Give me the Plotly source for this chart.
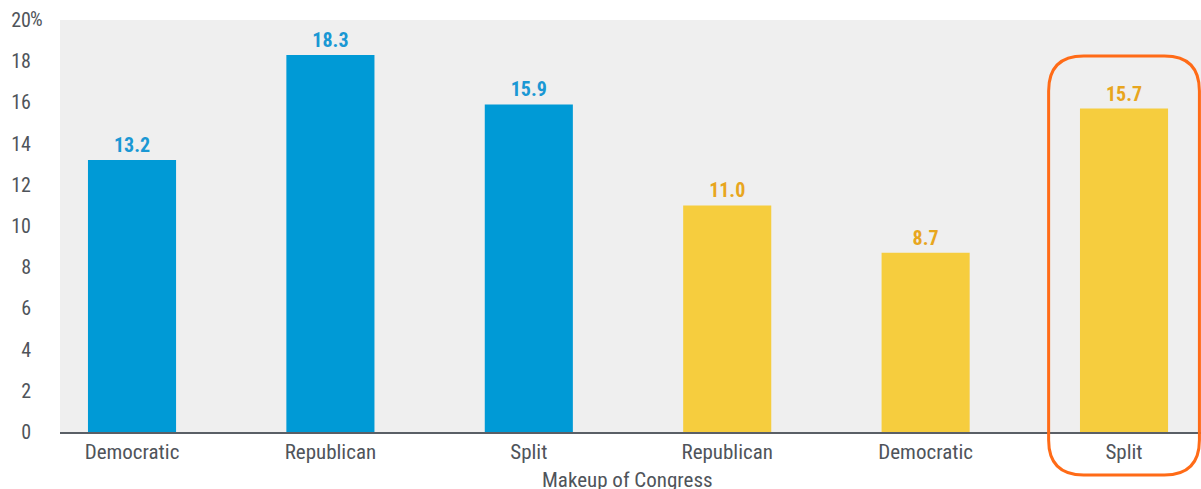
import plotly.graph_objects as go

categories = ["Democratic", "Republican", "Split", "Republican", "Democratic", "Split"]
values = [13.2, 18.3, 15.9, 11.0, 8.7, 15.7]
groups = ["blue", "blue", "blue", "yellow", "yellow", "yellow"]
y_ticks = [0, 2, 4, 6, 8, 10, 12, 14, 16, 18, 20]
y_ticktext = ["0", "2", "4", "6", "8", "10", "12", "14", "16", "18", "20"]
x_title = "Makeup of Congress"
highlight_index = 5

BLUE = "#009AD6"
YELLOW = "#F6CD3E"
BLUE_TXT = "#1A98D4"
YELLOW_TXT = "#E8A61E"
ORANGE = "#FF6B17"
FONT = "Roboto Condensed, Liberation Sans Narrow, Roboto, sans-serif"
GRAY = "#4F545A"

x = list(range(len(categories)))
bar_colors = [BLUE if g == "blue" else YELLOW for g in groups]
txt_colors = [BLUE_TXT if g == "blue" else YELLOW_TXT for g in groups]

fig = go.Figure()
fig.add_trace(go.Bar(
    x=x, y=values, width=0.444,
    marker=dict(color=bar_colors, line=dict(width=0)),
    text=[f"{v:.1f}" for v in values],
    textposition="outside",
    textfont=dict(family=FONT, size=20, color=txt_colors, weight="bold"),
    cliponaxis=False,
    hoverinfo="skip",
))

xmin, xmax = -0.363, 5.388
W, H = 1201, 489
ml, mr, mt, mb = 60, 0, 20, 57
pw = W - ml - mr
ph = H - mt - mb

# highlight rounded rectangle around the last bar (paper coordinates)
half = 0.38
x0 = (highlight_index - half - xmin) / (xmax - xmin)
x1 = (highlight_index + half - xmin) / (xmax - xmin)
y1 = 1 - 36 / ph
y0 = -43 / ph
rx = 35 / pw
ry = 35 / ph
path = (f"M {x0+rx},{y1} L {x1-rx},{y1} Q {x1},{y1} {x1},{y1-ry} "
        f"L {x1},{y0+ry} Q {x1},{y0} {x1-rx},{y0} "
        f"L {x0+rx},{y0} Q {x0},{y0} {x0},{y0+ry} "
        f"L {x0},{y1-ry} Q {x0},{y1} {x0+rx},{y1} Z")
fig.add_shape(type="path", path=path, xref="paper", yref="paper",
              line=dict(color=ORANGE, width=3), layer="above")

fig.add_annotation(text="%", xref="paper", yref="y", x=0, y=20,
                   xanchor="left", yanchor="middle", xshift=-32, yshift=1,
                   showarrow=False, font=dict(family=FONT, size=20, color=GRAY))

fig.add_annotation(text=x_title, xref="paper", yref="paper", x=0.5, y=0,
                   xanchor="center", yanchor="middle", xshift=-3, yshift=-48,
                   showarrow=False, font=dict(family=FONT, size=21, color=GRAY))

fig.update_layout(
    width=W, height=H,
    margin=dict(l=ml, r=mr, t=mt, b=mb, autoexpand=False),
    paper_bgcolor="white",
    plot_bgcolor="#EFEFEF",
    showlegend=False,
    font=dict(family=FONT, size=20, color=GRAY),
    xaxis=dict(
        range=[xmin, xmax], tickvals=x, ticktext=categories,
        showgrid=False, zeroline=False, showline=True,
        linecolor="#5A5F66", linewidth=1.5,
        ticks="", tickfont=dict(family=FONT, size=21, color=GRAY),
        automargin=False,
        fixedrange=True,
    ),
    yaxis=dict(
        range=[0, 20], tickvals=y_ticks, ticktext=y_ticktext,
        showgrid=False, zeroline=False, showline=False,
        ticks="", ticklabelstandoff=28,
        tickfont=dict(family=FONT, size=20, color=GRAY),
        fixedrange=True,
    ),
)

fig.write_html("out.html", config={"displayModeBar": False},
               post_script="document.body.style.margin='0';document.body.style.overflow='hidden';")
